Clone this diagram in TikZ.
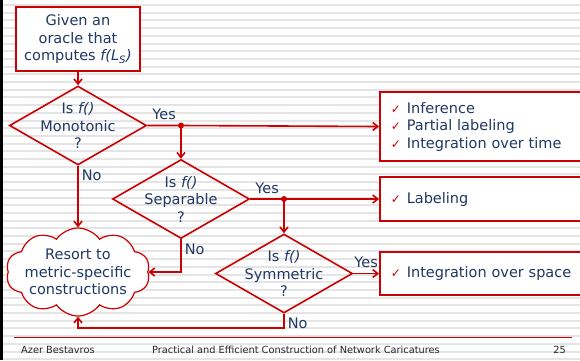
\documentclass[tikz,border=0pt]{standalone}
\usepackage{fontspec}
\setmainfont{DejaVu Sans}
\usepackage{xcolor}
\usepackage{tikz}
\usetikzlibrary{arrows.meta,shapes.geometric,shapes.symbols}
\definecolor{flowred}{HTML}{CC0000}
\definecolor{flowblue}{HTML}{1F3864}
\definecolor{stripegray}{HTML}{E4E4E4}
\newcommand{\chk}{\makebox[16pt][l]{\textcolor{flowred}{\fontsize{12}{12}\selectfont ✓}}}

\begin{document}
\begin{tikzpicture}[x=1pt,y=-1pt,
  every node/.style={text=flowblue,font=\fontsize{14.5}{17.5}\selectfont},
  flowline/.style={draw=flowred,line width=1.6pt},
  flow/.style={flowline,-{Straight Barb[length=5pt,width=8pt]}},
  startbox/.style={draw=flowred,line width=1.6pt,fill=white,minimum width=124pt,minimum height=64pt,align=center,inner sep=0pt},
  decision/.style={diamond,draw=flowred,line width=1.6pt,aspect=1.72,minimum width=137pt,minimum height=79pt,inner sep=-8pt,align=center},
  outbox/.style={draw=flowred,line width=1.6pt,fill=white,anchor=west,text width=190pt,inner xsep=11pt,align=left},
  resort/.style={cloud,cloud puffs=10,cloud puff arc=110,cloud ignores aspect,draw=flowred,line width=1.2pt,fill=white,inner xsep=-4pt,inner ysep=1.5pt,align=center},
  lbl/.style={inner sep=3pt},
  yeslbl/.style={inner sep=5pt},
  joint/.style={fill=flowred},
  footer/.style={text=black!85,font=\fontsize{9.8}{11}\selectfont,inner sep=3pt}]
\useasboundingbox (0,0) rectangle (580,360);

% Striped slide background
\fill[white] (0,0) rectangle (580,360);
\foreach \y in {4,11.7,...,360}
  \fill[stripegray] (0,\y) rectangle (580,\y+2);
\fill[black] (0,0) rectangle (3,360);
\clip (0,0) rectangle (580,360);

% Start and decisions
\node[startbox] (oracle) at (78,39) {Given an\\oracle that\\computes \textit{f(L\textsubscript{S})}};
\node[decision] (mono) at (78,125.5) {Is \textit{f()}\\Monotonic\\?};
\node[decision] (sep) at (181,199) {Is \textit{f()}\\Separable\\?};
\node[decision] (sym) at (284,273.5) {Is \textit{f()}\\Symmetric\\?};

% Outcomes
\node[resort] (resort) at (78,272) {Resort to\\metric-specific\\constructions};
\node[outbox,minimum height=69pt] (infer) at (379,126.5) {\chk Inference\\\chk Partial labeling\\\chk Integration over time};
\node[outbox,minimum height=44pt] (label) at (379,199) {\chk Labeling};
\node[outbox,minimum height=43pt] (space) at (379,273.5) {\chk Integration over space};

% Yes branches
\coordinate (j1) at (sep.north |- mono.east);
\coordinate (j2) at (sym.north |- sep.east);
\draw[flow] (oracle) -- (mono);
\draw[flow] (mono.east) -- node[yeslbl,above] (yes1) {Yes} (j1) -- (infer.west);
\draw[flow] (j1) -- (sep.north);
\draw[flow] (sep.east) -- node[yeslbl,above] (yes2) {Yes} (j2) -- (label.west);
\draw[flow] (j2) -- (sym.north);
\draw[flow] (sym.east) -- node[yeslbl,above] (yes3) {Yes} (space.west);
\fill[joint] (j1) circle (3pt);
\fill[joint] (j2) circle (3pt);

% No branches
\draw[flow] (mono.south) -- node[lbl,right,pos=0.15] (no1) {No} (resort.north);
\draw[flow] (sep.south) |- node[lbl,right,pos=0.16] (no2) {No} (resort.east);
\draw[flow] (sym.south) -- node[lbl,right,pos=0.7] (no3) {No} ++(0,14) -| (resort.south);

% Footer
\draw[flowred,line width=0.8pt] (14,337) -- (572,337);
\node[footer,anchor=west] (author) at (18,350) {Azer Bestavros};
\node[footer,anchor=west] (title) at (149,350) {Practical and Efficient Construction of Network Caricatures};
\node[footer,anchor=east] (page) at (569,350) {25};
\end{tikzpicture}
\end{document}
